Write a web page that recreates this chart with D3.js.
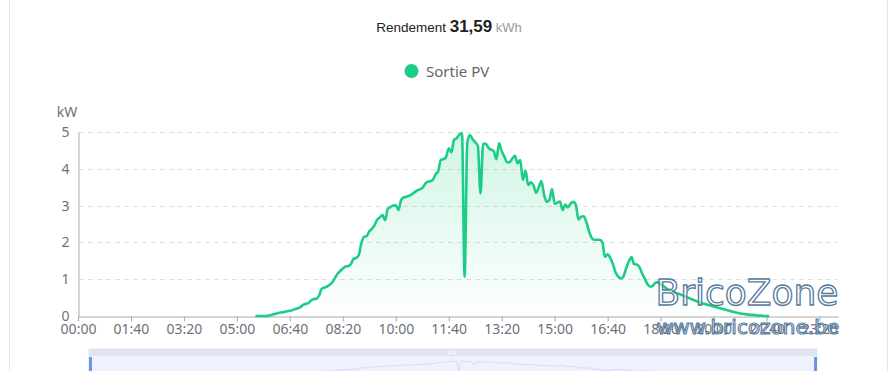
<!DOCTYPE html>
<html>
<head>
<meta charset="utf-8">
<script src="https://cdn.jsdelivr.net/npm/d3@7"></script>
<style>
  body { margin: 0; background: #fff; }
  svg { display: block; font-family: "Noto Sans", sans-serif; }
</style>
</head>
<body>
<svg id="drawing_region"></svg>
<script>
// 5-minute PV output (kW), first value at 05:35
const startTime = "05:35";
const pvValues = [
  0, 0, 0, 0, 0, 0.01, 0.03, 0.05, 0.07, 0.09,
  0.10, 0.11, 0.13, 0.14, 0.16, 0.19, 0.21, 0.24, 0.30, 0.33,
  0.35, 0.42, 0.46, 0.47, 0.55, 0.74, 0.77, 0.80, 0.85, 0.91,
  1.03, 1.15, 1.22, 1.29, 1.34, 1.36, 1.40, 1.55, 1.58, 1.65,
  1.98, 2.15, 2.17, 2.30, 2.37, 2.47, 2.62, 2.68, 2.74, 2.60,
  2.92, 2.96, 3.00, 3.01, 2.88, 3.15, 3.22, 3.24, 3.27, 3.30,
  3.36, 3.41, 3.44, 3.48, 3.58, 3.65, 3.66, 3.70, 3.85, 3.93,
  4.24, 4.26, 4.32, 4.56, 4.45, 4.79, 4.83, 4.93, 4.97, 1.07,
  4.70, 4.92, 4.80, 4.72, 4.62, 3.33, 4.68, 4.68, 4.57, 4.52,
  4.48, 4.26, 4.69, 4.48, 4.33, 4.18, 4.18, 4.28, 4.35, 4.15,
  4.24, 3.70, 3.95, 3.56, 3.63, 3.55, 3.35, 3.50, 3.67, 3.30,
  3.10, 3.15, 3.45, 3.05, 3.08, 3.11, 2.88, 3.03, 2.95, 3.05,
  3.10, 3.02, 2.62, 2.70, 2.71, 2.55, 2.30, 2.12, 2.07, 2.07,
  2.07, 2.00, 1.61, 1.68, 1.58, 1.41, 1.18, 1.07, 1.02, 1.08,
  1.30, 1.48, 1.60, 1.41, 1.40, 1.33, 1.16, 1.02, 0.87, 0.80,
  0.82, 0.90, 0.92, 0.86, 0.82, 0.76, 0.72, 0.68, 0.65, 0.62,
  0.60, 0.57, 0.54, 0.51, 0.48, 0.45, 0.42, 0.39, 0.36, 0.34,
  0.32, 0.30, 0.28, 0.26, 0.24, 0.22, 0.20, 0.18, 0.16, 0.14,
  0.12, 0.10, 0.09, 0.07, 0.06, 0.05, 0.04, 0.03, 0.03, 0.02,
  0.01, 0.01, 0, 0, 0
];
const xTickLabels = ["00:00", "01:40", "03:20", "05:00", "06:40", "08:20", "10:00",
  "11:40", "13:20", "15:00", "16:40", "18:20", "20:00", "21:40", "23:20"];
const yTicks = [0, 1, 2, 3, 4, 5];

const toMin = s => { const p = s.split(":"); return +p[0] * 60 + +p[1]; };
const start = toMin(startTime);
const data = pvValues.map((v, i) => ({ t: start + i * 5, v: v }));

const W = 892, H = 371;
const svg = d3.select("#drawing_region").attr("width", W).attr("height", H);

// panel borders
svg.append("line").attr("x1", 9.5).attr("x2", 9.5).attr("y1", 0).attr("y2", H)
  .attr("stroke", "#e8e8e8");
svg.append("line").attr("x1", 887.5).attr("x2", 887.5).attr("y1", 0).attr("y2", H)
  .attr("stroke", "#e8e8e8");

// title
const title = svg.append("text").attr("x", 449).attr("y", 32).attr("text-anchor", "middle")
  .attr("font-family", "Liberation Sans, Arial, sans-serif");
title.append("tspan").attr("font-size", 13.5).attr("fill", "#222").text("Rendement ");
title.append("tspan").attr("font-size", 17).attr("font-weight", "bold").attr("fill", "#222").text("31,59");
title.append("tspan").attr("font-size", 13).attr("fill", "#999").text(" kWh");

// legend
svg.append("circle").attr("cx", 411.5).attr("cy", 71).attr("r", 7).attr("fill", "#1ccd85");
svg.append("text").attr("x", 426).attr("y", 76.5).attr("font-size", 15).attr("fill", "#666")
  .text("Sortie PV");

const x = d3.scaleLinear().domain([0, 1435]).range([78, 838]);
const y = d3.scaleLinear().domain([0, 5]).range([316, 132]);

// grid
svg.append("g").selectAll("line").data(yTicks.filter(d => d > 0)).join("line")
  .attr("x1", 79).attr("x2", 838)
  .attr("y1", d => Math.round(y(d)) + 0.5).attr("y2", d => Math.round(y(d)) + 0.5)
  .attr("stroke", "#e0e0e0").attr("stroke-dasharray", "5,4");

// area + line
const defs = svg.append("defs");
const grad = defs.append("linearGradient").attr("id", "pvfill")
  .attr("x1", 0).attr("y1", 0).attr("x2", 0).attr("y2", 1);
grad.append("stop").attr("offset", "0%").attr("stop-color", "#1ccd85").attr("stop-opacity", 0.2);
grad.append("stop").attr("offset", "100%").attr("stop-color", "#1ccd85").attr("stop-opacity", 0.01);

const curve = d3.curveMonotoneX;
svg.append("path").datum(data)
  .attr("fill", "url(#pvfill)")
  .attr("d", d3.area().x(d => x(d.t)).y0(y(0)).y1(d => y(d.v)).curve(curve));

// y axis
const yAxis = svg.append("g").attr("transform", "translate(78.5,0)")
  .call(d3.axisLeft(y).tickValues(yTicks).tickFormat(d3.format("d")).tickSize(0).tickPadding(9));
yAxis.select(".domain").attr("stroke", "#aaa");
yAxis.selectAll("text").attr("font-size", 14).attr("fill", "#6e7079").attr("font-family", "Noto Sans");

svg.append("text").attr("x", 67).attr("y", 117).attr("text-anchor", "middle")
  .attr("font-size", 14).attr("fill", "#6e7079").text("kW");

// x axis
const xAxis = svg.append("g").attr("transform", "translate(0,316.5)")
  .call(d3.axisBottom(x).tickValues(xTickLabels.map(toMin)).tickFormat((d, i) => xTickLabels[i])
    .tickSizeInner(5).tickSizeOuter(0).tickPadding(3));
xAxis.select(".domain").attr("stroke", "#aaa");
xAxis.selectAll(".tick line").attr("stroke", "#aaa");
xAxis.selectAll("text").attr("font-size", 14).attr("fill", "#6e7079").attr("font-family", "Noto Sans");

svg.append("path").datum(data)
  .attr("fill", "none").attr("stroke", "#1ccd85").attr("stroke-width", 2.6)
  .attr("stroke-linejoin", "round")
  .attr("d", d3.line().x(d => x(d.t)).y(d => y(d.v)).curve(curve));

// data zoom slider
const sx = d3.scaleLinear().domain([0, 1435]).range([90, 815]);
const sy = d3.scaleLinear().domain([0, 5]).range([373, 361]);
svg.append("rect").attr("x", 89).attr("y", 349).attr("width", 728).attr("height", 30)
  .attr("fill", "#eef2fd").attr("stroke", "#dde3f1");
svg.append("rect").attr("x", 89).attr("y", 349).attr("width", 728).attr("height", 7)
  .attr("fill", "#dfe4f1");
svg.append("path").datum(data)
  .attr("fill", "none").attr("stroke", "#d3dcf6").attr("stroke-width", 1)
  .attr("d", d3.line().x(d => sx(d.t)).y(d => sy(d.v)).curve(curve));
svg.append("rect").attr("x", 89).attr("y", 357).attr("width", 3).attr("height", 20)
  .attr("fill", "#6f93e9");
svg.append("rect").attr("x", 814).attr("y", 357).attr("width", 3).attr("height", 20)
  .attr("fill", "#6f93e9");
[449, 452, 455].forEach(px => {
  svg.append("rect").attr("x", px - 0.5).attr("y", 351).attr("width", 1).attr("height", 4)
    .attr("fill", "#fff");
});

// watermark
svg.append("text").attr("x", 747).attr("y", 305).attr("text-anchor", "middle")
  .attr("font-family", "DejaVu Sans").attr("font-size", 36)
  .attr("fill", "rgba(255,255,255,0.55)").attr("stroke", "#557a9c").attr("stroke-width", 1.3)
  .text("BricoZone");
svg.append("text").attr("x", 748).attr("y", 334).attr("text-anchor", "middle")
  .attr("font-family", "DejaVu Sans").attr("font-size", 20)
  .attr("fill", "rgba(255,255,255,0.45)").attr("stroke", "#557a9c").attr("stroke-width", 1.1)
  .text("www.bricozone.be");
</script>
</body>
</html>
